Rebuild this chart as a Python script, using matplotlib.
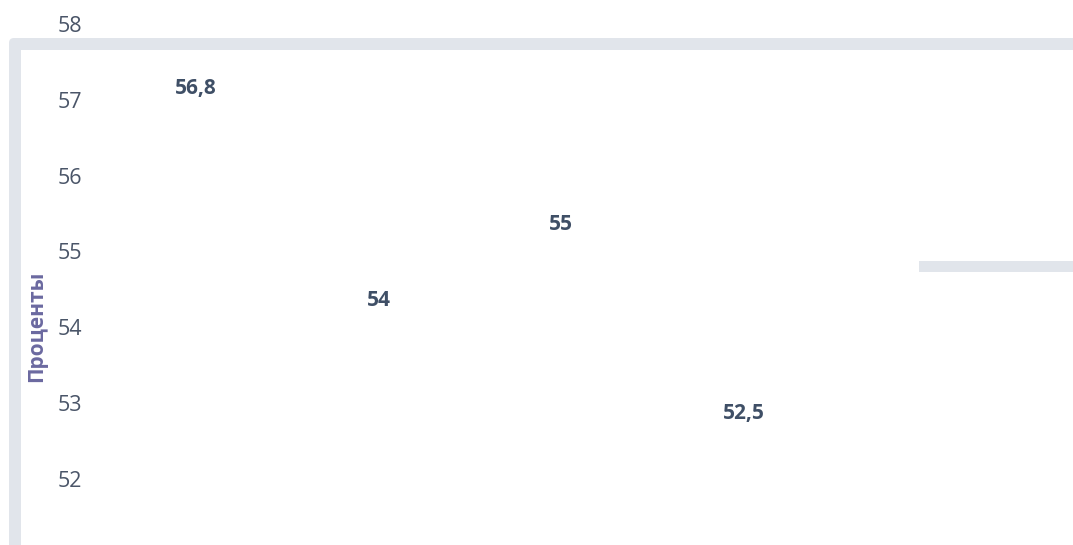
import matplotlib
matplotlib.use("Agg")
import matplotlib.pyplot as plt
from matplotlib.patches import Rectangle, FancyBboxPatch
from matplotlib.transforms import IdentityTransform

# Data
categories = ["1", "2", "3", "4"]
values = [56.8, 54.0, 55.0, 52.5]
value_labels = ["56,8", "54", "55", "52,5"]
yticks = [51, 52, 53, 54, 55, 56, 57, 58]
ylabel = "Проценты"

plt.rcParams["font.family"] = ["Open Sans", "DejaVu Sans"]

W, H = 1073, 545
fig = plt.figure(figsize=(W / 100, H / 100), dpi=100)
fig.patch.set_facecolor("white")

frame_col = "#e1e5eb"
idt = IdentityTransform()
# decorative frame in pixel coordinates (origin bottom-left)
fig.patches.append(FancyBboxPatch((9, -50), W + 50, H - 38 + 50,
                                  boxstyle="round,pad=0,rounding_size=5",
                                  transform=idt, facecolor=frame_col,
                                  edgecolor="none", zorder=-3))
fig.patches.append(Rectangle((21, -50), W + 50, H - 50 + 50,
                             transform=idt, facecolor="white",
                             edgecolor="none", zorder=-2))
fig.patches.append(Rectangle((919, H - 272), W - 919 + 5, 11,
                             transform=idt, facecolor=frame_col,
                             edgecolor="none", zorder=-1))

left_px = 95
ax = fig.add_axes([left_px / W, -0.1, 1 - left_px / W, 1.1])
ax.set_facecolor("none")
ax.set_zorder(1)

x = list(range(len(categories)))
bars = ax.bar(x, values, width=0.6, color="none", edgecolor="none")

spacing = 182.5
x0 = 196
ax.set_xlim((left_px - x0) / spacing, (W - x0) / spacing)
ytop = 58 + 24 / 75.8
ybot = 58 - (599.5 - 24) / 75.8
ax.set_ylim(ybot, ytop)

for xi, v, lab in zip(x, values, value_labels):
    ax.annotate(lab, (xi, v), xytext=(0, 19.4), textcoords="offset points",
                ha="center", va="center", fontsize=15, fontweight="bold",
                color="#3f4f66")

ax.set_yticks(yticks)
ax.set_yticklabels([str(t) for t in yticks])
ax.tick_params(axis="y", length=0, pad=9.5, labelsize=15.5, labelcolor="#4a5568")
ax.set_xticks([])
for s in ax.spines.values():
    s.set_visible(False)

fig.text(37 / W, 1 - 326 / H, ylabel, rotation=90, ha="center", va="center",
         fontsize=15, fontweight="bold", color="#6b69a0", zorder=5)

fig.savefig("out.png", dpi=100)
